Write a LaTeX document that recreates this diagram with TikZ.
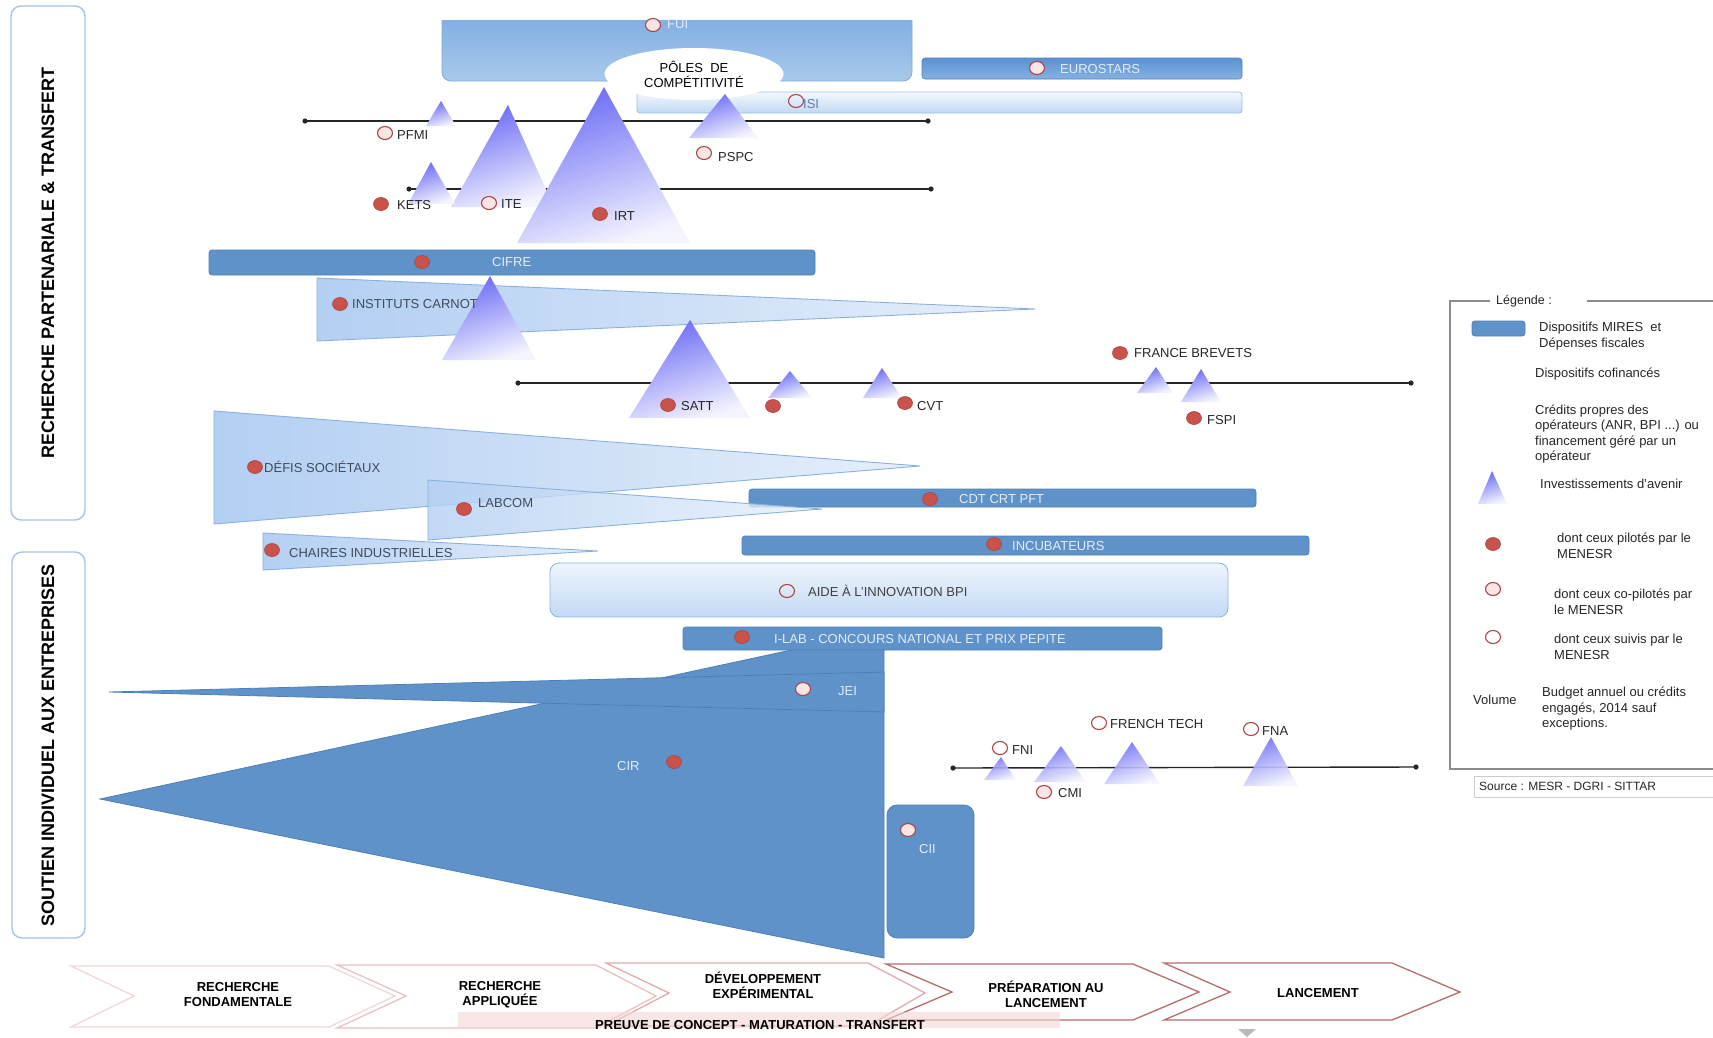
\documentclass[tikz,border=0pt]{standalone}
\usepackage{fontspec}
\setmainfont{Liberation Sans}
\usetikzlibrary{shapes.geometric}
\definecolor{mires}{HTML}{5E92C8}
\definecolor{miresdk}{HTML}{4E80B7}
\definecolor{wedgeL}{HTML}{B3CFF2}
\definecolor{wedgeR}{HTML}{E6EFFB}
\definecolor{wedgeB}{HTML}{8BB0DD}
\definecolor{triT}{HTML}{6A6AF5}
\definecolor{triB}{HTML}{F4F4FF}
\definecolor{dotred}{HTML}{C9524B}
\definecolor{dotbd}{HTML}{A94545}
\definecolor{dotpink}{HTML}{FBE4E4}
\definecolor{framec}{HTML}{A3C3E8}
\definecolor{bartext}{HTML}{E4ECF7}
\definecolor{wtext}{HTML}{3F4B5E}
\definecolor{isitext}{HTML}{5B7EB2}
\definecolor{chevA}{HTML}{F3D6D6}
\definecolor{chevB}{HTML}{EBC0C0}
\definecolor{chevC}{HTML}{E3AAAA}
\definecolor{chevD}{HTML}{B76B6B}
\definecolor{legc}{HTML}{8C8C8C}
\definecolor{fuiT}{HTML}{6FA2DC}
\definecolor{fuiB}{HTML}{A9C9EC}
\definecolor{fuiD}{HTML}{80A9D9}
\definecolor{isiT}{HTML}{F4F8FE}
\definecolor{isiB}{HTML}{C2D8F3}
\definecolor{isiD}{HTML}{9CBDE5}
\definecolor{eurT}{HTML}{5A91D2}
\definecolor{eurB}{HTML}{86B1E3}
\definecolor{aideT}{HTML}{EFF5FD}
\definecolor{aideB}{HTML}{C3D9F4}
\definecolor{aideD}{HTML}{8FB5E1}
\definecolor{bandc}{HTML}{F4D4D4}
\tikzset{
  mbar/.style={fill=mires, draw=miresdk, line width=0.8pt, rounded corners=3pt},
  mshape/.style={fill=mires, draw=miresdk, line width=0.8pt, line join=miter},
  wedge/.style={left color=wedgeL, right color=wedgeR, draw=wedgeB, line width=0.9pt},
  tri/.style={top color=triT, bottom color=triB, shading angle=18},
  pil/.style={ellipse, fill=dotred, draw=dotbd, line width=0.6pt, inner sep=0pt, minimum width=15pt, minimum height=13pt},
  copil/.style={ellipse, fill=dotpink, draw=dotbd, line width=1.1pt, inner sep=0pt, minimum width=15pt, minimum height=13pt},
  suivi/.style={ellipse, draw=dotbd, line width=1.1pt, inner sep=0pt, minimum width=15pt, minimum height=13pt},
  lbl/.style={font=\fontsize{13}{15}\selectfont, inner sep=0pt, anchor=west, text height=9.3pt, text depth=0pt, text=black!85},
  blbl/.style={lbl, text=bartext},
  wlbl/.style={lbl, text=wtext},
  axisline/.style={line width=1.4pt, black!85},
  vtitle/.style={rotate=90, font=\bfseries\fontsize{18}{20}\selectfont, inner sep=0pt},
  sidebox/.style={draw=framec, line width=1.4pt, rounded corners=10pt, fill=white},
  chev/.style={line width=1.3pt, fill=white, line join=miter},
  chevtxt/.style={font=\bfseries\fontsize{13}{15}\selectfont, align=center, inner sep=0pt},
  legtxt/.style={font=\fontsize{13}{15.5}\selectfont, align=left, anchor=west, inner sep=0pt, text=black!85},
}
\begin{document}
\begin{tikzpicture}[x=1pt,y=-1pt]
\useasboundingbox (0,0) rectangle (1713,1037);
\clip (0,0) rectangle (1713,1037);

% ---------- side boxes
\draw[sidebox] (11,6) rectangle (85,520);
\node[vtitle] (title1) at (48,263) {RECHERCHE PARTENARIALE \& TRANSFERT};
\draw[sidebox] (12,552) rectangle (85,938);
\node[vtitle] (title2) at (48,745) {SOUTIEN INDIVIDUEL AUX ENTREPRISES};

% ---------- top block
\begin{scope}
  \clip (0,20) rectangle (1713,1037);
  \path[top color=fuiT, bottom color=fuiB, draw=fuiD, line width=0.8pt, rounded corners=9pt] (442,-10) rectangle (912,81);
\end{scope}
\node[copil] (dFUI) at (653,25) {};
\node[blbl] (tFUI) at (667,24) {FUI};

\path[top color=isiT, bottom color=isiB, draw=isiD, line width=0.8pt, rounded corners=3pt] (637,92) rectangle (1242,113);
\path[top color=eurT, bottom color=eurB, draw=miresdk, line width=0.6pt, rounded corners=3pt] (922,58) rectangle (1242,79);
\node[copil] (dEURO) at (1037,68) {};
\node[blbl] (tEURO) at (1060,69) {EUROSTARS};
\node[lbl, text=isitext] (tISI) at (803,104) {ISI};
\node[suivi] (dISI) at (796,101) {};

\node[ellipse, fill=white, minimum width=179pt, minimum height=52pt, inner sep=0pt, align=center, font=\fontsize{13}{15}\selectfont] (poles) at (694,74) {PÔLES\ \ DE\\COMPÉTITIVITÉ};

% lines 1 and 2
\coordinate (l1a) at (305,121); \coordinate (l1b) at (928,121);
\draw[axisline] (l1a) -- (l1b);
\fill[black!85] (l1a) circle[radius=2.6pt] (l1b) circle[radius=2.6pt];
\coordinate (l2a) at (409,189); \coordinate (l2b) at (931,189);
\draw[axisline] (l2a) -- (l2b);
\fill[black!85] (l2a) circle[radius=2.6pt] (l2b) circle[radius=2.6pt];

% triangles (top)
\path[tri] (441,101) -- (426,126) -- (456,126) -- cycle;
\path[tri] (508,105) -- (451,207) -- (554,207) -- cycle;
\path[tri] (431,162) -- (408,204) -- (455,204) -- cycle;
\path[tri] (604,87) -- (517,243) -- (690,243) -- cycle;
\path[tri] (725,94) -- (689,138) -- (758,138) -- cycle;

\node[copil] (dPFMI) at (385,133) {};
\node[lbl] (tPFMI) at (397,135) {PFMI};
\node[pil] (dKETS) at (381,204) {};
\node[lbl] (tKETS) at (397,205) {KETS};
\node[copil] (dITE) at (489,203) {};
\node[lbl] (tITE) at (501,204) {ITE};
\node[pil] (dIRT) at (600,214) {};
\node[lbl] (tIRT) at (614,216) {IRT};
\node[copil] (dPSPC) at (704,153) {};
\node[lbl] (tPSPC) at (718,157) {PSPC};

% ---------- CIFRE and Carnot
\path[mbar] (209,250) rectangle (815,275);
\node[pil] (dCIFRE) at (422,262) {};
\node[blbl] (tCIFRE) at (492,262) {CIFRE};

\path[wedge] (317,278) -- (1035,309) -- (317,341) -- cycle;
\path[tri] (490,276) -- (442,360) -- (536,360) -- cycle;
\node[pil] (dCARNOT) at (340,304) {};
\node[wlbl] (tCARNOT) at (352,304) {INSTITUTS CARNOT};

% line 3
\coordinate (l3a) at (518,383); \coordinate (l3b) at (1411,383);
\draw[axisline] (l3a) -- (l3b);
\fill[black!85] (l3a) circle[radius=2.6pt] (l3b) circle[radius=2.6pt];
\path[tri] (690,320) -- (629,418) -- (750,418) -- cycle;
\path[tri] (790,371) -- (768,398) -- (812,398) -- cycle;
\path[tri] (882,368) -- (863,398) -- (902,398) -- cycle;
\path[tri] (1156,367) -- (1137,393) -- (1173,393) -- cycle;
\path[tri] (1201,369) -- (1181,402) -- (1221,402) -- cycle;
\node[pil] (dSATT) at (668,405) {};
\node[lbl] (tSATT) at (681,406) {SATT};
\node[pil] (dX) at (773,406) {};
\node[pil] (dCVT) at (905,403) {};
\node[lbl] (tCVT) at (917,406) {CVT};
\node[pil] (dFB) at (1120,353) {};
\node[lbl] (tFB) at (1134,353) {FRANCE BREVETS};
\node[pil] (dFSPI) at (1194,418) {};
\node[lbl] (tFSPI) at (1207,420) {FSPI};

% ---------- wedges and bars
\path[wedge] (214,411) -- (920,466) -- (214,524) -- cycle;
\path[mbar] (749,489) rectangle (1256,507);
\node[pil] (dCDT) at (930,499) {};
\node[blbl] (tCDT) at (959,499) {CDT CRT PFT};
\path[wedge, fill opacity=0.8] (428,480) -- (822,509) -- (428,540) -- cycle;
\path[wedge] (263,533) -- (598,551) -- (263,570) -- cycle;
\node[pil] (dDEFIS) at (255,467) {};
\node[wlbl] (tDEFIS) at (264,468) {DÉFIS SOCIÉTAUX};
\node[pil] (dLABCOM) at (464,509) {};
\node[wlbl] (tLABCOM) at (478,503) {LABCOM};
\node[pil] (dCHAIRES) at (272,550) {};
\node[wlbl] (tCHAIRES) at (289,553) {CHAIRES INDUSTRIELLES};

\path[mbar] (742,536) rectangle (1309,555);
\node[pil] (dINC) at (994,544) {};
\node[blbl] (tINC) at (1012,546) {INCUBATEURS};

\path[top color=aideT, bottom color=aideB, draw=aideD, line width=0.9pt, rounded corners=9pt] (550,563) rectangle (1228,617);
\node[suivi] (dAIDE) at (787,591) {};
\node[lbl, text=black!75] (tAIDE) at (808,592) {AIDE À L'INNOVATION BPI};

% ---------- CIR / JEI / I-LAB / CII
\path[mshape] (100,799) -- (884,630) -- (884,958) -- cycle;
\path[mshape] (109,692) -- (884,672) -- (884,712) -- cycle;
\path[mbar] (683,627) rectangle (1162,650);
\node[pil] (dILAB) at (742,637) {};
\node[blbl] (tILAB) at (774,639) {I-LAB - CONCOURS NATIONAL ET PRIX PEPITE};
\node[copil] (dJEI) at (803,689) {};
\node[blbl] (tJEI) at (838,691) {JEI};
\node[blbl] (tCIR) at (617,766) {CIR};
\node[pil] (dCIR) at (674,762) {};
\path[mbar, rounded corners=10pt] (887,805) rectangle (974,938);
\node[copil] (dCII) at (908,830) {};
\node[blbl] (tCII) at (919,849) {CII};

% line 4
\coordinate (l4a) at (953,768); \coordinate (l4b) at (1416,767);
\draw[axisline] (l4a) -- (l4b);
\fill[black!85] (l4a) circle[radius=2.6pt] (l4b) circle[radius=2.6pt];
\path[tri, fill opacity=0.9] (1001,757) -- (984,780) -- (1016,780) -- cycle;
\path[tri, fill opacity=0.9] (1061,746) -- (1034,782) -- (1086,782) -- cycle;
\path[tri, fill opacity=0.9] (1132,742) -- (1104,784) -- (1160,784) -- cycle;
\path[tri, fill opacity=0.9] (1271,737) -- (1243,786) -- (1298,786) -- cycle;
\node[suivi] (dFNI) at (1000,748) {};
\node[lbl] (tFNI) at (1012,750) {FNI};
\node[copil] (dCMI) at (1044,792) {};
\node[lbl] (tCMI) at (1058,793) {CMI};
\node[suivi] (dFT) at (1099,723) {};
\node[lbl] (tFT) at (1110,724) {FRENCH TECH};
\node[suivi] (dFNA) at (1251,729) {};
\node[lbl] (tFNA) at (1262,731) {FNA};

% ---------- legend
\draw[legc, line width=1.2pt] (1490,301) -- (1450,301) -- (1450,769) -- (1720,769);
\draw[legc, line width=1.2pt] (1587,301) -- (1720,301);
\node[legtxt, font=\fontsize{12.5}{14}\selectfont] (legtitle) at (1496,301) {Légende :};
\path[mbar] (1472,321) rectangle (1525,336);
\node[legtxt] (lg1) at (1539,336) {Dispositifs MIRES\ \ et\\Dépenses fiscales};
\node[legtxt] (lg2) at (1535,374) {Dispositifs cofinancés};
\node[legtxt] (lg3) at (1535,434) {Crédits propres des\\opérateurs (ANR, BPI ...) ou\\financement géré par un\\opérateur};
\path[tri] (1492,471) -- (1478,504) -- (1507,504) -- cycle;
\node[legtxt] (lg4) at (1540,484) {Investissements d'avenir};
\node[pil] (lgp) at (1493,544) {};
\node[legtxt] (lg5) at (1557,546) {dont ceux pilotés par le\\MENESR};
\node[copil] (lgc) at (1493,589) {};
\node[legtxt] (lg6) at (1554,602) {dont ceux co-pilotés par\\le MENESR};
\node[suivi] (lgs) at (1493,637) {};
\node[legtxt] (lg7) at (1554,647) {dont ceux suivis par le\\MENESR};
\node[legtxt] (lgvol) at (1473,700) {Volume};
\node[legtxt] (lg8) at (1542,709) {Budget annuel ou crédits\\engagés, 2014 sauf\\exceptions.};
\draw[black!20, line width=0.8pt] (1474,776) rectangle (1720,797);
\node[legtxt, font=\fontsize{12}{14}\selectfont] (src) at (1479,786.5) {Source : MESR - DGRI - SITTAR};

% ---------- chevrons
\draw[chev, draw=chevA] (71,966) -- (329,966) -- (395,996) -- (329,1027) -- (71,1027) -- (134,996) -- cycle;
\draw[chev, draw=chevB] (337,965) -- (596,965) -- (656,996) -- (596,1028) -- (337,1028) -- (406,996) -- cycle;
\draw[chev, draw=chevC] (606,963) -- (868,963) -- (925,993) -- (868,1026) -- (606,1026) -- (669,993) -- cycle;
\draw[chev, draw=chevD] (886,964) -- (1133,964) -- (1199,992) -- (1133,1020) -- (886,1020) -- (952,992) -- cycle;
\draw[chev, draw=chevD] (1164,963) -- (1392,963) -- (1460,992) -- (1392,1020) -- (1164,1020) -- (1230,992) -- cycle;
\node[chevtxt] (c1) at (238,995) {RECHERCHE\\FONDAMENTALE};
\node[chevtxt] (c2) at (500,995) {RECHERCHE\\APPLIQUÉE};
\node[chevtxt] (c3) at (763,985) {DÉVELOPPEMENT\\EXPÉRIMENTAL};
\node[chevtxt] (c4) at (1046,994) {PRÉPARATION AU\\LANCEMENT};
\node[chevtxt] (c5) at (1318,993) {LANCEMENT};
\fill[bandc, opacity=0.6] (458,1012) rectangle (1060,1028);
\node[chevtxt] (preuve) at (760,1025) {PREUVE DE CONCEPT - MATURATION - TRANSFERT};
\fill[gray!55] (1238,1029) -- (1256,1029) -- (1247,1037) -- cycle;
\end{tikzpicture}
\end{document}
